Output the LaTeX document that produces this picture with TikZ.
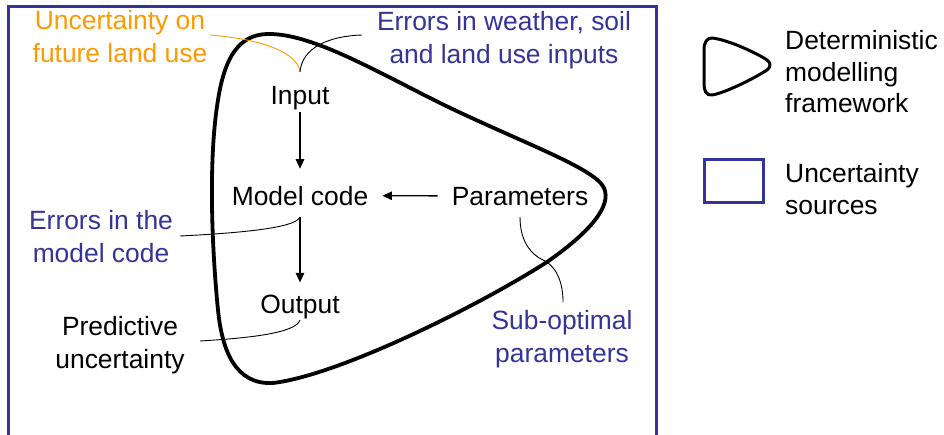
\documentclass[tikz,border=0pt]{standalone}
\usepackage{fontspec}
\setmainfont{Liberation Sans}
\usetikzlibrary{arrows.meta}
\definecolor{ublue}{RGB}{51,51,153}
\definecolor{uorange}{RGB}{255,153,0}
\begin{document}
\begin{tikzpicture}[x=1pt,y=-1pt,
  lbl/.style={font=\fontsize{26.4}{33}\selectfont, inner sep=0pt, align=center},
  leg/.style={font=\fontsize{26.4}{31.5}\selectfont, inner sep=0pt, align=left, anchor=west},
  box/.style={font=\fontsize{26.4}{33}\selectfont, inner sep=0pt, anchor=base},
  arr/.style={-{Triangle[length=9.5pt,width=8.5pt]}, line width=1.3pt},
  callout/.style={line width=0.9pt},
  frame/.style={draw=ublue, line width=3pt},
  bigloop/.style={line width=3.8pt, line join=round}]
\useasboundingbox (0,0) rectangle (944,434);
% uncertainty frame
\draw[frame] (8.5,6.5) rectangle (656.5,436);
% deterministic framework
\draw[bigloop] (267,34)
  .. controls (310,33) and (370,68) .. (440,103)
  .. controls (520,142) and (595,168) .. (604,188)
  .. controls (612,206) and (590,232) .. (547,262)
  .. controls (480,305) and (340,375) .. (273,383)
  .. controls (235,385) and (222,350) .. (218,310)
  .. controls (212,250) and (208,160) .. (218,100)
  .. controls (225,55) and (240,35) .. (267,34) -- cycle;
% main nodes
\node[box] (in) at (300,104) {Input};
\node[box] (mc) at (300,205) {Model code};
\node[box] (out) at (300,313) {Output};
\node[box] (par) at (520,205) {Parameters};
\draw[arr, shorten <=2.5pt, shorten >=17pt] (in) -- (mc);
\draw[arr, shorten <=12pt, shorten >=12pt] (mc) -- (out);
\draw[arr, shorten <=14pt, shorten >=14pt] (par) -- (mc);
% labels
\node[lbl, text=uorange] (fut) at (120,37) {Uncertainty on\\future land use};
\node[lbl, text=ublue] (wea) at (504,39.7) {Errors in weather, soil\\and land use inputs};
\node[lbl, text=ublue] (code) at (101,237) {Errors in the\\model code};
\node[lbl] (pred) at (120,344.7) {Predictive\\uncertainty};
\node[lbl, text=ublue] (sub) at (562,338.8) {Sub-optimal\\parameters};
% callout end points
\coordinate (inTip) at (300,72);
\coordinate (futEnd) at (210,35);
\coordinate (weaEnd) at (362,35);
\coordinate (mcTip) at (300,217);
\coordinate (codeEnd) at (180,236);
\coordinate (outTip) at (300,320);
\coordinate (predEnd) at (200,341);
\coordinate (parTip) at (520,217);
\coordinate (subMid) at (543,260);
\coordinate (subEnd) at (563,302);
\draw[callout, draw=uorange] (inTip) .. controls (298,55) and (270,40) .. (futEnd);
\draw[callout] (inTip) .. controls (302,47) and (330,36) .. (weaEnd);
\draw[callout] (mcTip) .. controls (296,228) and (240,233) .. (codeEnd);
\draw[callout] (outTip) .. controls (296,333) and (250,338) .. (predEnd);
\draw[callout] (parTip) .. controls (520,240) and (530,254) .. (subMid)
  .. controls (558,267) and (563,285) .. (subEnd);
% legend
\draw[line width=3pt, line join=round] (712,38)
  .. controls (730,40) and (760,55) .. (767,60)
  .. controls (771,63) and (771,67) .. (767,70)
  .. controls (755,78) and (725,93) .. (712,95)
  .. controls (706,96) and (704,90) .. (704,84)
  -- (704,50)
  .. controls (704,42) and (707,38) .. (712,38) -- cycle;
\node[leg] (legdet) at (785,72) {Deterministic\\modelling\\framework};
\draw[frame] (704,159) rectangle (763,202);
\node[leg] (legunc) at (785,189) {Uncertainty\\sources};
\end{tikzpicture}
\end{document}
